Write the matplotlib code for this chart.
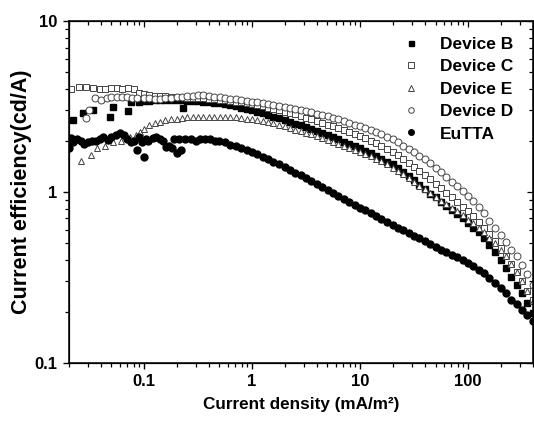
import matplotlib
matplotlib.use("Agg")
import matplotlib.pyplot as plt
from matplotlib.ticker import FuncFormatter

plt.rcParams["font.family"] = ["Liberation Sans", "DejaVu Sans"]
plt.rcParams["font.weight"] = "bold"

# current density grid for the continuous part (mA/m2)
j_grid = [0.1, 0.112, 0.126, 0.141, 0.158, 0.178, 0.2, 0.224, 0.251, 0.282,
          0.316, 0.355, 0.398, 0.447, 0.501, 0.562, 0.631, 0.708, 0.794, 0.891,
          1.0, 1.12, 1.26, 1.41, 1.58, 1.78, 2.0, 2.24, 2.51, 2.82,
          3.16, 3.55, 3.98, 4.47, 5.01, 5.62, 6.31, 7.08, 7.94, 8.91,
          10, 11.2, 12.6, 14.1, 15.8, 17.8, 20, 22.4, 25.1, 28.2,
          31.6, 35.5, 39.8, 44.7, 50.1, 56.2, 63.1, 70.8, 79.4, 89.1,
          100, 112, 126, 141, 158, 178, 200, 224, 251, 282,
          316, 355, 398]

# Device B (filled squares)
b_low_j = [0.022, 0.027, 0.034, 0.048, 0.052, 0.071, 0.076, 0.09, 0.23]
b_low_eff = [2.64, 2.9, 3.0, 2.75, 3.14, 2.98, 3.36, 3.36, 3.1]
b_eff = [3.40, 3.42, 3.44, 3.45, 3.45, 3.44, 3.44, 3.43, 3.42, 3.41,
         3.40, 3.38, 3.36, 3.33, 3.30, 3.26, 3.22, 3.17, 3.12, 3.06,
         3.00, 2.94, 2.88, 2.82, 2.76, 2.70, 2.64, 2.58, 2.51, 2.45,
         2.39, 2.33, 2.27, 2.21, 2.15, 2.09, 2.03, 1.97, 1.91, 1.85,
         1.80, 1.74, 1.68, 1.62, 1.56, 1.50, 1.45, 1.38, 1.31, 1.24,
         1.17, 1.10, 1.04, 0.98, 0.93, 0.88, 0.83, 0.78, 0.74, 0.70,
         0.66, 0.62, 0.58, 0.535, 0.49, 0.445, 0.40, 0.36, 0.32, 0.285,
         0.255, 0.225, 0.195]

# Device C (open squares)
c_low_j = [0.021, 0.025, 0.029, 0.034, 0.039, 0.044, 0.05, 0.056, 0.063, 0.071, 0.08, 0.09]
c_low_eff = [4.0, 4.1, 4.1, 4.05, 4.0, 4.0, 4.05, 4.05, 4.0, 4.05, 4.0, 3.8]
c_eff = [3.72, 3.68, 3.65, 3.63, 3.62, 3.60, 3.60, 3.58, 3.57, 3.56,
         3.55, 3.53, 3.51, 3.49, 3.47, 3.44, 3.41, 3.38, 3.35, 3.31,
         3.27, 3.22, 3.17, 3.12, 3.07, 3.01, 2.95, 2.89, 2.84, 2.78,
         2.72, 2.66, 2.60, 2.54, 2.48, 2.42, 2.36, 2.30, 2.24, 2.18,
         2.12, 2.06, 2.00, 1.93, 1.86, 1.79, 1.72, 1.64, 1.56, 1.48,
         1.40, 1.33, 1.26, 1.19, 1.12, 1.05, 0.99, 0.93, 0.87, 0.82,
         0.77, 0.72, 0.67, 0.62, 0.57, 0.52, 0.47, 0.42, 0.38, 0.34,
         0.30, 0.265, 0.235]

# Device E (open triangles)
e_low_j = [0.026, 0.032, 0.037, 0.044, 0.052, 0.061, 0.074, 0.084, 0.092]
e_low_eff = [1.52, 1.65, 1.8, 1.87, 1.96, 2.0, 2.1, 2.16, 2.25]
e_eff = [2.35, 2.45, 2.52, 2.58, 2.62, 2.66, 2.69, 2.71, 2.73, 2.74,
         2.75, 2.76, 2.76, 2.76, 2.76, 2.75, 2.74, 2.73, 2.71, 2.69,
         2.67, 2.64, 2.60, 2.56, 2.52, 2.47, 2.42, 2.37, 2.32, 2.27,
         2.22, 2.17, 2.12, 2.07, 2.02, 1.97, 1.92, 1.87, 1.82, 1.77,
         1.72, 1.67, 1.62, 1.57, 1.51, 1.45, 1.39, 1.33, 1.27, 1.21,
         1.15, 1.09, 1.04, 0.99, 0.94, 0.89, 0.85, 0.81, 0.77, 0.73,
         0.69, 0.655, 0.62, 0.58, 0.54, 0.50, 0.46, 0.42, 0.38, 0.34,
         0.30, 0.265, 0.23]

# Device D (open circles)
d_low_j = [0.029, 0.031, 0.035, 0.04, 0.045, 0.05, 0.056, 0.062, 0.07, 0.078, 0.087]
d_low_eff = [2.7, 3.0, 3.55, 3.45, 3.55, 3.6, 3.6, 3.6, 3.6, 3.55, 3.55]
d_eff = [3.55, 3.55, 3.50, 3.52, 3.55, 3.55, 3.58, 3.60, 3.62, 3.65,
         3.68, 3.70, 3.62, 3.60, 3.58, 3.55, 3.52, 3.48, 3.45, 3.42,
         3.38, 3.34, 3.30, 3.26, 3.22, 3.18, 3.14, 3.10, 3.06, 3.02,
         2.97, 2.92, 2.87, 2.82, 2.77, 2.72, 2.66, 2.60, 2.54, 2.48,
         2.42, 2.36, 2.30, 2.24, 2.17, 2.10, 2.03, 1.95, 1.87, 1.79,
         1.71, 1.63, 1.55, 1.47, 1.39, 1.31, 1.23, 1.15, 1.08, 1.01,
         0.95, 0.89, 0.82, 0.75, 0.68, 0.62, 0.56, 0.51, 0.46, 0.42,
         0.375, 0.33, 0.285]

# EuTTA (filled circles): scattered low part, then continuous from 0.562
eu_low_j = [0.020, 0.021, 0.022, 0.024, 0.026, 0.028, 0.030, 0.033, 0.036, 0.039,
            0.042, 0.046, 0.05, 0.055, 0.06, 0.065, 0.07, 0.075, 0.08, 0.086,
            0.09, 0.095, 0.1, 0.105, 0.11, 0.12, 0.13, 0.14, 0.15, 0.16,
            0.17, 0.18, 0.19, 0.2, 0.21, 0.22, 0.24, 0.27, 0.3, 0.33,
            0.37, 0.41, 0.45, 0.5]
eu_low_eff = [1.8, 2.07, 1.95, 2.05, 2.0, 1.92, 1.95, 2.0, 1.98, 2.05,
              2.1, 2.02, 2.1, 2.15, 2.2, 2.15, 2.05, 1.95, 2.0, 1.76,
              2.1, 1.95, 1.6, 2.05, 2.0, 2.08, 2.1, 2.05, 2.0, 1.83,
              1.85, 1.8, 2.05, 1.7, 2.05, 1.75, 2.05, 2.05, 2.0, 2.05,
              2.05, 2.05, 2.0, 2.0]
eu_j = j_grid[15:]
eu_eff = [1.95, 1.88, 1.85, 1.80, 1.76,
          1.71, 1.66, 1.61, 1.55, 1.50, 1.45, 1.40, 1.35, 1.30, 1.25,
          1.20, 1.16, 1.11, 1.07, 1.03, 0.99, 0.95, 0.91, 0.88, 0.845,
          0.81, 0.78, 0.75, 0.72, 0.695, 0.67, 0.645, 0.62, 0.60, 0.575,
          0.555, 0.535, 0.515, 0.495, 0.48, 0.46, 0.445, 0.43, 0.415, 0.40,
          0.385, 0.37, 0.35, 0.335, 0.315, 0.295, 0.275, 0.255, 0.235, 0.22,
          0.205, 0.19, 0.175]

fig = plt.figure(figsize=(5.34, 4.22), dpi=100)
ax = fig.add_axes([0.1283, 0.1398, 0.8699, 0.8104])

open_kw = dict(linestyle="none", markerfacecolor="white", markeredgecolor="#444444",
               markeredgewidth=0.7, markersize=5)

ax.plot(b_low_j + j_grid, b_low_eff + b_eff, "s", color="black", markersize=4.5,
        linestyle="none", label="Device B")
ax.plot(c_low_j + j_grid, c_low_eff + c_eff, marker="s", label="Device C", **open_kw)
ax.plot(e_low_j + j_grid, e_low_eff + e_eff, marker="^", label="Device E", **open_kw)
ax.plot(d_low_j + j_grid, d_low_eff + d_eff, marker="o", label="Device D", **open_kw)
ax.plot(eu_low_j + eu_j, eu_low_eff + eu_eff, "o", color="black", markersize=5,
        linestyle="none", label="EuTTA")

ax.set_xscale("log")
ax.set_yscale("log")
ax.set_xlim(0.02, 400)
ax.set_ylim(0.1, 10)

fmt = FuncFormatter(lambda v, _: f"{v:g}")
ax.xaxis.set_major_formatter(fmt)
ax.yaxis.set_major_formatter(fmt)
ax.tick_params(which="major", direction="out", length=4.5, width=1.0, labelsize=12)
ax.tick_params(which="minor", direction="out", length=2.6, width=0.9)
for s in ax.spines.values():
    s.set_linewidth(1.1)

# mirrored ticks on top and right, pointing in
top = ax.twiny()
top.set_xscale("log")
top.set_xlim(ax.get_xlim())
top.tick_params(which="both", direction="in", labeltop=False, width=0.9)
top.tick_params(which="major", length=4.5)
top.tick_params(which="minor", length=2.6)
right = ax.twinx()
right.set_yscale("log")
right.set_ylim(ax.get_ylim())
right.tick_params(which="both", direction="in", labelright=False, width=0.9)
right.tick_params(which="major", length=4.5)
right.tick_params(which="minor", length=2.6)

ax.set_xlabel("Current density (mA/m²)", fontsize=12.3, fontweight="bold", labelpad=6)
ax.set_ylabel("Current efficiency(cd/A)", fontsize=15.5, fontweight="bold", labelpad=2)

leg = ax.legend(loc="upper right", bbox_to_anchor=(0.99, 1.0), frameon=False,
                prop={"weight": "bold", "size": 12.5}, handletextpad=0.9,
                labelspacing=0.42, markerscale=0.8, handlelength=1.5)

fig.savefig("out.png", dpi=100)
